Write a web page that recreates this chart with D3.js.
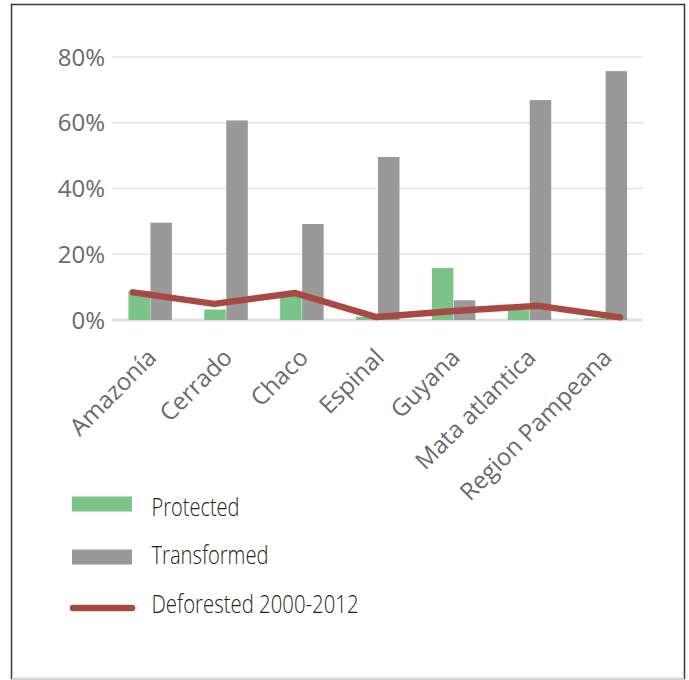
<!DOCTYPE html>
<html>
<head>
<meta charset="utf-8">
<script src="https://cdn.jsdelivr.net/npm/d3@7"></script>
<style>
  body { margin: 0; background: #fff; }
  svg { display: block; }
</style>
</head>
<body>
<div id="chart-area"></div>
<script>
const regions = ["Amazonía", "Cerrado", "Chaco", "Espinal", "Guyana", "Mata atlantica", "Region Pampeana"];
const protectedPct = [8.9, 3.2, 7.3, 1.0, 15.8, 3.0, 0.5];
const transformedPct = [29.6, 60.7, 29.2, 49.6, 6.0, 66.9, 75.7];
const deforestedPct = [8.4, 4.9, 8.2, 0.9, 2.8, 4.3, 0.8];
const yTicks = [0, 20, 40, 60, 80];

const GREEN = "#7bc487", GREY = "#999999", RED = "#a84a44";
const W = 689, H = 680;

const svg = d3.select("#chart-area").append("svg")
    .attr("width", W)
    .attr("height", H);

// frame
svg.append("rect")
    .attr("x", 11.5).attr("y", 4.5)
    .attr("width", 673).attr("height", 674)
    .attr("fill", "none")
    .attr("stroke", "#3a3a3a")
    .attr("stroke-width", 1.5);
svg.append("line")
    .attr("x1", 12).attr("x2", 684).attr("y1", 678).attr("y2", 678)
    .attr("stroke", "#e3e3e3").attr("stroke-width", 2);

let plot = {left: 112, right: 643, top: 57, bottom: 320};

const x = d3.scaleBand()
    .domain(regions)
    .range([plot.left, plot.right]);
const barW = 21.5;

// the deforestation line sits on its own (wider) category axis
const xLine = d3.scalePoint()
    .domain(regions)
    .range([133, 620]);

const y = d3.scaleLinear()
    .domain([0, 80])
    .range([plot.bottom, plot.top]);

// gridlines
svg.append("g").selectAll("line")
    .data(yTicks)
    .join("line")
    .attr("x1", plot.left).attr("x2", plot.right)
    .attr("y1", d => y(d)).attr("y2", d => y(d))
    .attr("stroke", d => d === 0 ? "#dcdcdc" : "#e4e4e4")
    .attr("stroke-width", d => d === 0 ? 2.6 : 1.7);

// y tick labels
svg.append("g").selectAll("text")
    .data(yTicks)
    .join("text")
    .attr("x", 105)
    .attr("y", d => y(d))
    .attr("dy", "0.36em")
    .attr("text-anchor", "end")
    .attr("font-family", "'Open Sans', sans-serif")
    .attr("font-size", "24px")
    .attr("fill", "#6a6a6a")
    .text(d => d + "%");

// bars
const bars = svg.append("g");
bars.selectAll(".prot")
    .data(regions)
    .join("rect")
    .attr("x", d => x(d) + x.bandwidth() / 2 - barW)
    .attr("y", (d, i) => y(protectedPct[i]))
    .attr("width", barW)
    .attr("height", (d, i) => y(0) - y(protectedPct[i]))
    .attr("fill", GREEN);
bars.selectAll(".trans")
    .data(regions)
    .join("rect")
    .attr("x", d => x(d) + x.bandwidth() / 2 + 0.5)
    .attr("y", (d, i) => y(transformedPct[i]))
    .attr("width", barW)
    .attr("height", (d, i) => y(0) - y(transformedPct[i]))
    .attr("fill", GREY);

// deforestation line
const line = d3.line()
    .x((d, i) => xLine(regions[i]))
    .y(d => y(d));
svg.append("path")
    .datum(deforestedPct)
    .attr("d", line)
    .attr("fill", "none")
    .attr("stroke", RED)
    .attr("stroke-width", 6.5)
    .attr("stroke-linecap", "round")
    .attr("stroke-linejoin", "round");

// x labels, rotated
svg.append("g").selectAll("text")
    .data(regions)
    .join("text")
    .attr("transform", d => `translate(${x(d) + x.bandwidth() / 2 + 8},${plot.bottom + 39}) rotate(-45)`)
    .attr("text-anchor", "end")
    .attr("font-family", "'Open Sans', sans-serif")
    .attr("font-size", "24px")
    .attr("fill", "#6a6a6a")
    .text(d => d);

// legend
const legendItems = [
    {label: "Protected", type: "rect", color: GREEN, width: 88, symY: 504, textY: 516},
    {label: "Transformed", type: "rect", color: GREY, width: 117, symY: 557, textY: 564},
    {label: "Deforested 2000-2012", type: "line", color: RED, width: 207, symY: 608, textY: 612.5}
];
const legend = svg.append("g");
legendItems.forEach(item => {
    if (item.type === "rect") {
        legend.append("rect")
            .attr("x", 72).attr("y", item.symY - 7.5)
            .attr("width", 60).attr("height", 15)
            .attr("fill", item.color);
    } else {
        legend.append("line")
            .attr("x1", 73).attr("x2", 132)
            .attr("y1", item.symY).attr("y2", item.symY)
            .attr("stroke", item.color)
            .attr("stroke-width", 6.5)
            .attr("stroke-linecap", "round");
    }
    legend.append("text")
        .attr("x", 151.5)
        .attr("y", item.textY)
        .attr("font-family", "'Open Sans', sans-serif")
        .attr("font-weight", 300)
        .attr("font-size", "26px")
        .attr("fill", "#222")
        .attr("textLength", item.width)
        .attr("lengthAdjust", "spacingAndGlyphs")
        .text(item.label);
});
</script>
</body>
</html>
